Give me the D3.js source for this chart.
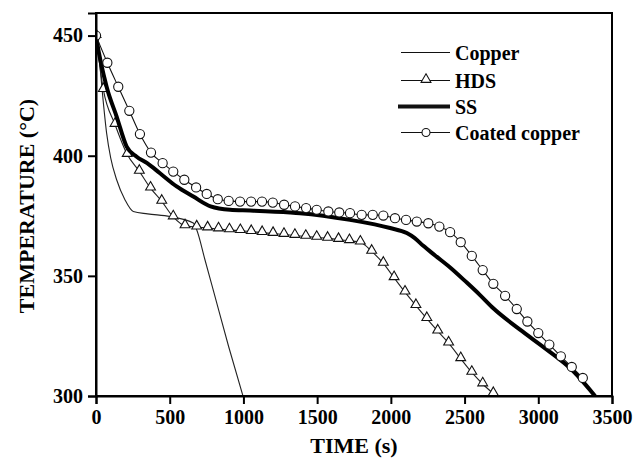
<!DOCTYPE html>
<html>
<head>
<meta charset="utf-8">
<script src="https://cdn.jsdelivr.net/npm/d3@7"></script>
<style>
body { margin: 0; background: #fff; }
svg text { font-family: "Liberation Serif", "Times New Roman", serif; font-weight: bold; fill: #000; }
</style>
</head>
<body>
<div id="chart"></div>
<script>
// data: time (s) and temperature (°C)
var copperTime = [0, 15, 27, 50, 72, 100, 140, 197, 253, 350, 502, 660, 683, 739, 800, 900, 997];
var copperTemp = [450, 443, 437, 422, 409.4, 399, 390, 381.6, 376.8, 375.8, 374.7, 372, 369.2, 356.7, 343, 320.5, 300];

var hdsTime = [0, 50, 129, 212, 294, 370, 446, 524, 604, 683, 757, 831, 905, 979, 1053, 1127, 1201, 1275,
    1349, 1423, 1497, 1571, 1645, 1719, 1793, 1870, 1949, 2022, 2096, 2170, 2244, 2318, 2392, 2474, 2549, 2623, 2695];
var hdsTemp = [450, 427.5, 413, 400.5, 393.5, 386.5, 381, 374.5, 370.8, 370.3, 369.9, 369.5, 369.1, 368.8, 368.4, 368, 367.6, 367.2,
    366.8, 366.4, 366, 365.6, 365.1, 364.6, 364, 360.2, 355.2, 349.2, 343.2, 337.6, 332.2, 327, 322, 315.5, 309.8, 305, 301];

var ssTime = [0, 5, 72, 140, 208, 276, 347, 434, 547, 660, 777, 909, 1045, 1316, 1384, 1723, 1995, 2108, 2160, 2220, 2300, 2402, 2515, 2605, 2695, 2876, 3058, 3238, 3385];
var ssTemp = [450, 448, 428.7, 416.3, 403.8, 399.6, 396.9, 392.7, 387.2, 383, 378.9, 377.5, 377.2, 376.4, 376.1, 373.3, 369.9, 367.8, 365.8, 362.5, 358.5, 353.5, 347.2, 342, 336.5, 327.6, 319.3, 310.3, 300];

var coatedTime = [0, 77, 151, 226, 298, 373, 452, 524, 599, 679, 751, 826, 900, 977, 1052, 1126, 1199, 1276,
    1350, 1425, 1497, 1576, 1650, 1723, 1802, 1877, 1949, 2028, 2103, 2176, 2254, 2329, 2402, 2474, 2549, 2623,
    2695, 2775, 2854, 2926, 3000, 3075, 3153, 3227, 3302];
var coatedTemp = [450, 438.7, 428.7, 418.7, 409, 401.3, 396.9, 393.4, 390, 386.8, 384.1, 381.9, 381.2, 380.9, 380.9, 380.9, 380.5, 379.6,
    378.9, 378.2, 377.5, 376.8, 376.4, 376.1, 375.4, 375.4, 375.1, 374, 373.3, 372.6, 371.9, 370.5, 368.2, 364, 358.3, 352.4,
    346.7, 341.7, 336.2, 331, 326.2, 321.4, 316.5, 312.1, 307.5];

var xTicks = [0, 500, 1000, 1500, 2000, 2500, 3000, 3500];
var yTicks = [300, 350, 400, 450];
var seriesNames = ["Copper", "HDS", "SS", "Coated copper"];

var width = 636, height = 460;
var margin = {top: 13, right: 24, bottom: 64, left: 96};

var svg = d3.select("#chart").append("svg")
    .attr("width", width)
    .attr("height", height);

var x = d3.scaleLinear().domain([0, 3500]).range([margin.left, width - margin.right]);
var y = d3.scaleLinear().domain([300, 459.4]).range([height - margin.bottom, margin.top]);

function zip(t, v) {
    return t.map(function(d, i) { return {t: d, v: v[i]}; });
}

var copper = zip(copperTime, copperTemp);
var hds = zip(hdsTime, hdsTemp);
var ss = zip(ssTime, ssTemp);
var coated = zip(coatedTime, coatedTemp);

svg.append("clipPath").attr("id", "plotClip")
    .append("rect")
    .attr("x", margin.left).attr("y", margin.top)
    .attr("width", width - margin.left - margin.right)
    .attr("height", height - margin.top - margin.bottom);

var line = d3.line()
    .x(d => x(d.t))
    .y(d => y(d.v))
    .curve(d3.curveMonotoneX);

var plot = svg.append("g").attr("clip-path", "url(#plotClip)");

plot.append("path").datum(copper)
    .attr("d", line).attr("fill", "none").attr("stroke", "#222").attr("stroke-width", 1.1);

plot.append("path").datum(hds)
    .attr("d", line).attr("fill", "none").attr("stroke", "#222").attr("stroke-width", 1.1);

var tri = d3.symbol().type(d3.symbolTriangle).size(42);
plot.selectAll(".tri").data(hds).enter().append("path")
    .attr("class", "tri")
    .attr("transform", d => "translate(" + x(d.t) + "," + (y(d.v) - 1) + ")")
    .attr("d", tri)
    .attr("fill", "#fff").attr("stroke", "#111").attr("stroke-width", 1.1);

plot.append("path").datum(ss)
    .attr("d", line).attr("fill", "none").attr("stroke", "#000").attr("stroke-width", 4);

plot.append("path").datum(coated)
    .attr("d", line).attr("fill", "none").attr("stroke", "#111").attr("stroke-width", 1.1);

plot.selectAll(".circ").data(coated).enter().append("circle")
    .attr("class", "circ")
    .attr("cx", d => x(d.t)).attr("cy", d => y(d.v)).attr("r", 4.6)
    .attr("fill", "#fff").attr("stroke", "#111").attr("stroke-width", 1.1);

// frame
svg.append("rect")
    .attr("x", margin.left).attr("y", margin.top)
    .attr("width", width - margin.left - margin.right)
    .attr("height", height - margin.top - margin.bottom)
    .attr("fill", "none").attr("stroke", "#000").attr("stroke-width", 2);

// axes
var xAxis = svg.append("g")
    .attr("transform", "translate(0," + (height - margin.bottom) + ")")
    .call(d3.axisBottom(x).tickValues(xTicks).tickSize(8).tickPadding(6).tickFormat(d3.format("d")));

var yAxis = svg.append("g")
    .attr("transform", "translate(" + margin.left + ",0)")
    .call(d3.axisLeft(y).tickValues(yTicks).tickSize(8).tickPadding(5).tickFormat(d3.format("d")));

[xAxis, yAxis].forEach(function(a) {
    a.select(".domain").attr("stroke-width", 2);
    a.selectAll(".tick line").attr("stroke-width", 2);
    a.selectAll(".tick text").attr("font-size", 20).attr("font-family", null);
});

svg.append("text")
    .attr("x", (margin.left + width - margin.right) / 2)
    .attr("y", 453)
    .attr("text-anchor", "middle")
    .attr("font-size", 22)
    .text("TIME (s)");

svg.append("text")
    .attr("transform", "translate(33.5," + 206 + ") rotate(-90)")
    .attr("text-anchor", "middle")
    .attr("font-size", 22)
    .text("TEMPERATURE (°C)");

// legend
var legend = svg.append("g");
var rowY = [52.5, 80.5, 106.5, 132.5];

seriesNames.forEach(function(name, i) {
    var g = legend.append("g");
    g.append("line")
        .attr("x1", i == 2 ? 398 : 401).attr("x2", 450)
        .attr("y1", rowY[i]).attr("y2", rowY[i])
        .attr("stroke", "#111")
        .attr("stroke-width", i == 2 ? 4 : 1.1);
    if (i == 1) {
        g.append("path")
            .attr("transform", "translate(426," + (rowY[i] - 1) + ")")
            .attr("d", tri)
            .attr("fill", "#fff").attr("stroke", "#111").attr("stroke-width", 1.1);
    }
    if (i == 3) {
        g.append("circle")
            .attr("cx", 426).attr("cy", rowY[i]).attr("r", 4)
            .attr("fill", "#fff").attr("stroke", "#111").attr("stroke-width", 1.1);
    }
    g.append("text")
        .attr("x", 455).attr("y", rowY[i] + 7)
        .attr("font-size", 20)
        .text(name);
});
</script>
</body>
</html>
